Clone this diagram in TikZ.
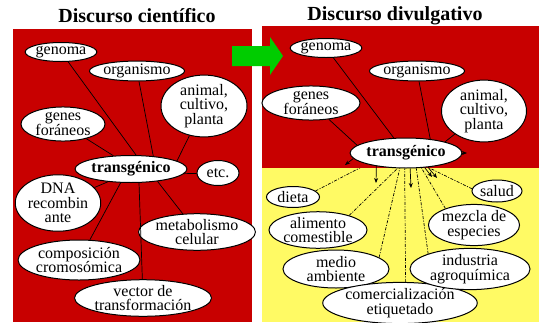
\documentclass[tikz,border=0pt]{standalone}
\usepackage{fontspec}
\setmainfont{Liberation Serif}
\usetikzlibrary{shapes.geometric,arrows.meta}
\definecolor{panelred}{RGB}{200,0,0}
\definecolor{panelyellow}{RGB}{255,250,100}
\definecolor{arrowgreen}{RGB}{0,204,0}

\begin{document}
\begin{tikzpicture}[x=1pt,y=-1pt,
    concept/.style={ellipse,draw=black,line width=1pt,fill=white,inner sep=0pt,align=center,
                    font=\fontsize{16}{14.6}\selectfont},
    title/.style={font=\fontsize{20}{24}\selectfont\bfseries},
    link/.style={black,line width=0.7pt},
    dlink/.style={black,line width=0.7pt,dash pattern=on 3pt off 1.5pt on 1pt off 1.5pt},
    spoke/.style={black,line width=0.7pt,-{Stealth[length=5pt,width=4pt]}}]
    \useasboundingbox (0,0) rectangle (543,322);
    % panels
    \fill [panelred] (13,29) rectangle (252,322);
    \fill [panelyellow] (262,168) rectangle (539,322);
    \fill [panelred] (262,26) rectangle (539,168);
    \fill [arrowgreen] (232,46) -- (270,46) -- (270,37) -- (283,56) -- (270,75) -- (270,66) -- (232,66) -- cycle;
    \node [title] (ttlL) at (137,16) {Discurso científico};
    \node [title] (ttlR) at (395,16) {Discurso divulgativo};
    % left: scientific discourse
    \node [concept,minimum width=66,minimum height=19] (gL) at (61,52) {genoma};
    \node [concept,minimum width=81,minimum height=19] (oL) at (137,71) {organismo};
    \node [concept,minimum width=86,minimum height=46] (aL) at (204,106) {animal,\\cultivo,\\planta};
    \node [concept,minimum width=84,minimum height=34] (fL) at (63,124) {genes\\foráneos};
    \node [concept,minimum width=105,minimum height=27] (tL) at (131,169) {\bfseries transgénico};
    \node [concept,minimum width=42,minimum height=25] (eL) at (218,173) {etc.};
    \node [concept,minimum width=70,minimum height=50] (dL) at (58,203) {DNA\\recombin\\ante};
    \node [concept,minimum width=103,minimum height=32] (mL) at (197,232) {metabolismo\\celular};
    \node [concept,minimum width=112,minimum height=40] (cL) at (79,260) {composición\\cromosómica};
    \node [concept,minimum width=129,minimum height=32] (vL) at (143,298) {vector de\\transformación};
    \draw [link] (gL) -- (tL.70);
    \draw [link] (oL) -- (tL.30);
    \draw [link] (aL) -- (tL.10);
    \draw [link] (fL) -- (tL.143);
    \draw [link] (eL) -- (tL.355);
    \draw [link] (dL) -- (tL.209);
    \draw [link] (cL) -- (tL.233);
    \draw [link] (vL) -- (tL.300);
    \draw [link] (mL) -- (tL.335);
    % right: popular discourse
    \node [concept,minimum width=66,minimum height=19] (gR) at (326,48) {genoma};
    \node [concept,minimum width=80,minimum height=19] (oR) at (417,71) {organismo};
    \node [concept,minimum width=98,minimum height=31] (fR) at (311,103) {genes\\foráneos};
    \node [concept,minimum width=85,minimum height=44] (aR) at (484,111) {animal,\\cultivo,\\planta};
    \node [concept,minimum width=102,minimum height=30] (tR) at (406,153) {\bfseries transgénico};
    \draw [link] (gR) -- (tR.129);
    \draw [link] (oR) -- (tR.30);
    \draw [link] (aR) -- (tR.16);
    \draw [link] (fR) -- (tR.171);
    \node [concept,minimum width=53,minimum height=21] (di) at (293,197) {dieta};
    \node [concept,minimum width=90,minimum height=36] (al) at (318,230) {alimento\\comestible};
    \node [concept,minimum width=106,minimum height=38] (me) at (336,269) {medio\\ambiente};
    \node [concept,minimum width=145,minimum height=33] (co) at (400,303) {comercialización\\etiquetado};
    \node [concept,minimum width=120,minimum height=38] (ia) at (470,269) {industria\\agroquímica};
    \node [concept,minimum width=88,minimum height=31] (mz) at (474,225) {mezcla de\\especies};
    \node [concept,minimum width=50,minimum height=22] (sa) at (497,191) {salud};
    \begin{scope}
        \clip (262,168) rectangle (539,322);
        \draw [dlink] (di.15) -- (tR.196);
        \draw [dlink] (al.25) -- (tR.241);
        \draw [dlink] (me.15) -- (tR.248);
        \draw [dlink] (co.75) -- (tR.265);
        \draw [dlink] (ia.160) -- (tR.304);
        \draw [dlink] (mz.150) -- (tR.316);
        \draw [dlink] (sa.175) -- (tR.327);
    \end{scope}
    \coordinate (tipA) at (345,165);
    \coordinate (tipB) at (467,153);
    \coordinate (tipC) at (376,183);
    \coordinate (tipD) at (411,188);
    \coordinate (tipE) at (432,177);
    \coordinate (tipF) at (437,178);
    \draw [spoke] (tR.186) -- (tipA);
    \draw [spoke] (tR.0) -- (tipB);
    \draw [spoke] (tR.204) -- (tipC);
    \draw [spoke] (tR.285) -- (tipD);
    \draw [spoke] (tR.322) -- (tipE);
    \draw [spoke] (tR.327) -- (tipF);
\end{tikzpicture}
\end{document}
